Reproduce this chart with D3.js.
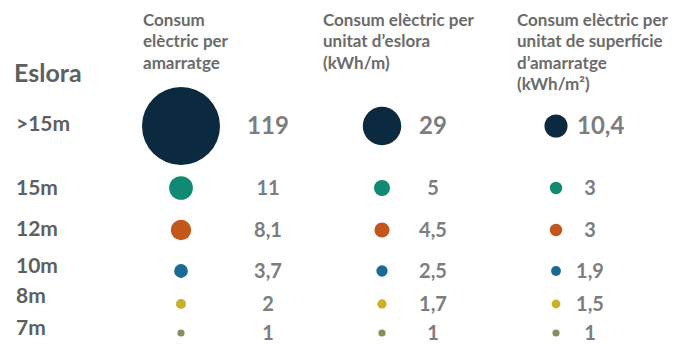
<!DOCTYPE html>
<html><head><meta charset="utf-8">
<script src="https://cdn.jsdelivr.net/npm/d3@7"></script>
<style>body{margin:0;background:#fff}svg{display:block}</style>
</head><body>
<svg id="c" width="673" height="344"></svg>
<script>
const categories = [">15m", "15m", "12m", "10m", "8m", "7m"];
const consumAmarratge = [119, 11, 8.1, 3.7, 2, 1];
const consumEslora = [29, 5, 4.5, 2.5, 1.7, 1];
const consumSuperficie = [10.4, 3, 3, 1.9, 1.5, 1];
const headers = [
  ["Consum", "elèctric per", "amarratge"],
  ["Consum elèctric per", "unitat d\u2019eslora", "(kWh/m)"],
  ["Consum elèctric per", "unitat de superfície", "d\u2019amarratge", "(kWh/m\u00B2)"]
];
const rowTitle = "Eslora";
const colors = ["#0c2a3f", "#108a72", "#c3561b", "#196a94", "#c9b12e", "#8b8b5e"];

const svg = d3.select("#c");
const font = "Lato, 'Open Sans', sans-serif";
const fmt = v => String(v).replace(".", ",");

const y = d3.scaleOrdinal().domain(categories).range([126, 188, 230, 271, 304, 333]);
const yLabel = d3.scaleOrdinal().domain(categories).range([124, 188, 229, 266, 296, 328]);
const r = d3.scaleSqrt().domain([0, 119]).range([0, 39]);
const colorScale = d3.scaleOrdinal().domain(categories).range(colors);

const cols = [
  {data: consumAmarratge, cx: 181, tx: 143, vx: () => 268, anchor: () => "middle"},
  {data: consumEslora, cx: 382, tx: 323, vx: () => 433, anchor: () => "middle"},
  {data: consumSuperficie, cx: 556, tx: 517, vx: i => i === 0 ? 577 : 590, anchor: i => i === 0 ? "start" : "middle"}
];

// row title
svg.append("text").attr("x", 14).attr("y", 82).text(rowTitle)
  .attr("font-family", font).attr("font-weight", 700).attr("font-size", 25).attr("fill", "#5f5f5f");

// row labels
svg.selectAll("text.lab").data(categories).join("text").attr("class", "lab")
  .attr("x", 16).attr("y", d => yLabel(d)).attr("dy", "0.35em").text(d => d)
  .attr("font-family", font).attr("font-weight", 700).attr("font-size", 21).attr("fill", "#5f5f5f");

cols.forEach((c, ci) => {
  const g = svg.append("g");
  g.selectAll("text.h").data(headers[ci]).join("text").attr("class", "h")
    .attr("x", c.tx).attr("y", (d, i) => 20 + i * 21.5).attr("dy", "0.35em").text(d => d)
    .attr("font-family", font).attr("font-weight", 700).attr("font-size", 17).attr("fill", "#6b6b6b");
  g.selectAll("circle").data(categories).join("circle")
    .attr("cx", c.cx).attr("cy", d => y(d))
    .attr("r", (d, i) => r(c.data[i])).attr("fill", d => colorScale(d));
  g.selectAll("text.v").data(categories).join("text").attr("class", "v")
    .attr("x", (d, i) => c.vx(i)).attr("y", d => y(d)).attr("dy", "0.35em")
    .attr("text-anchor", (d, i) => c.anchor(i))
    .text((d, i) => fmt(c.data[i]))
    .attr("font-family", font).attr("font-weight", 700)
    .attr("font-size", (d, i) => i === 0 ? 24 : 20).attr("fill", "#7d7d7d");
});
</script>
</body></html>
